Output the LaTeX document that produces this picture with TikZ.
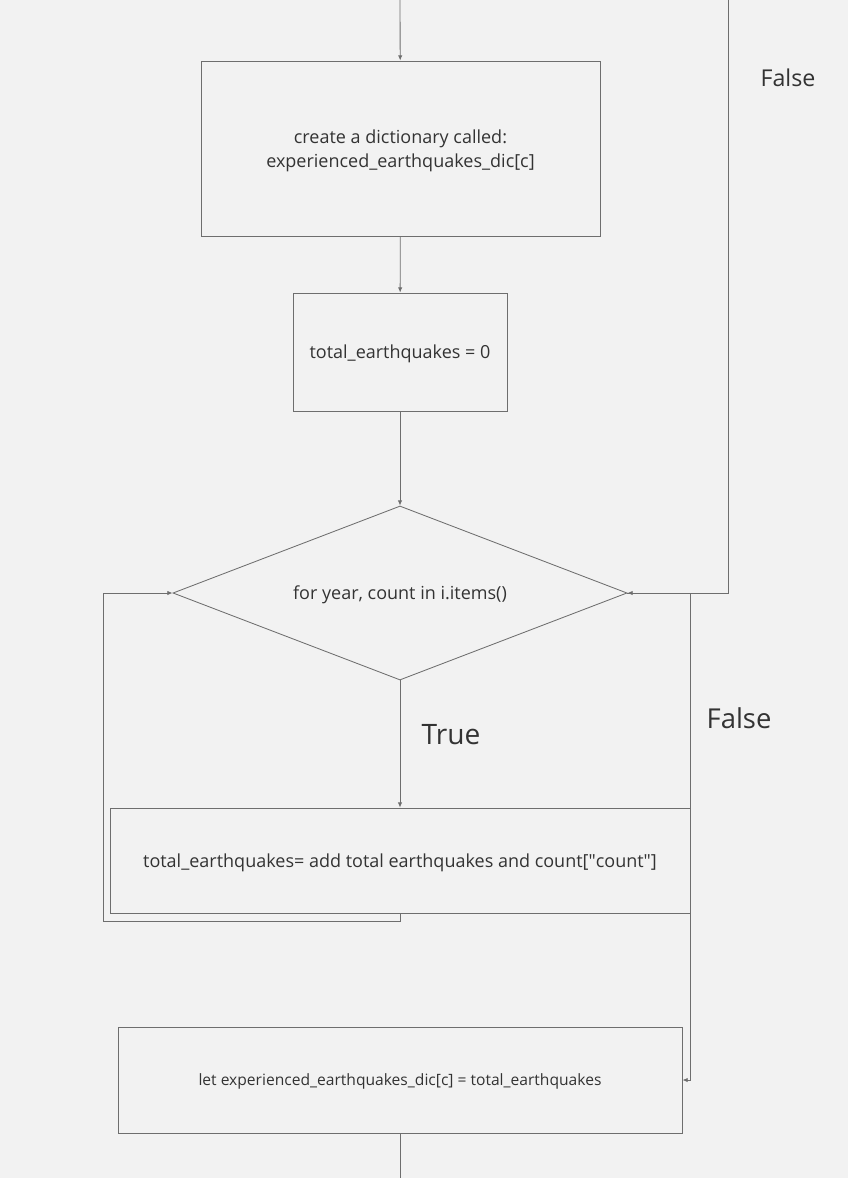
\documentclass[tikz,border=0pt]{standalone}
\usepackage{fontspec}
\setmainfont{Open Sans}
\usetikzlibrary{arrows.meta, shapes.geometric, positioning}
\definecolor{bggray}{HTML}{F2F2F2}
\definecolor{linegray}{HTML}{6E6E6E}
\definecolor{txtgray}{HTML}{333333}

\begin{document}
\begin{tikzpicture}[
    x=0.025cm, y=-0.025cm,
    font=\fontsize{12.8}{16.8}\selectfont,
    >={Latex[length=1.3mm,width=1.1mm]},
    box/.style={draw=linegray, fill=bggray, align=center, inner sep=0pt,
                text=txtgray, line width=0.6pt, text depth=0pt},
    cond/.style={diamond, draw=linegray, aspect=2.6, inner sep=0pt,
                 text=txtgray, line width=0.6pt, text depth=0pt},
    flow/.style={->, draw=linegray, line width=0.6pt},
    lab/.style={text=txtgray, inner sep=0pt},
  ]

  %% ---- canvas ----
  \fill[bggray] (0,0) rectangle (848,1178);
  \useasboundingbox (0,0) rectangle (848,1178);

  %% ---- main chain ----
  \coordinate (in)   at (400,0);
  \coordinate (back) at (728,0);
  \coordinate (out)  at (400,1178);

  \node[box, minimum width=9.975cm, minimum height=4.375cm] (dict) at (400.5,148.5)
    {create a dictionary called:\\experienced\_earthquakes\_dic[c]};
  \node[box, minimum width=5.35cm, minimum height=2.95cm] (init) at (400,352)
    {total\_earthquakes = 0};
  \node[cond, minimum width=11.35cm, minimum height=4.35cm] (loop) at (400,593)
    {for year, count in i.items()};
  \node[box, minimum width=14.5cm, minimum height=2.625cm] (add) at (400,860.5)
    {total\_earthquakes= add total earthquakes and
     count[\textquotedbl count\textquotedbl]};
  \node[box, minimum width=14.1cm, minimum height=2.65cm,
        font=\fontsize{11.1}{14}\selectfont] (store) at (400,1080)
    {let experienced\_earthquakes\_dic[c] = total\_earthquakes};

  \draw[flow] (in) -- (dict);
  \draw[flow] (dict) -- (init);
  \draw[flow] (init) -- (loop);
  \draw[flow] (loop) -- (add);
  \draw[draw=linegray, line width=0.6pt] (store) -- (out);

  %% ---- loop back and exits ----
  \draw[flow] (add.south) -- ++(0,8) -- ++(-297,0) |- (loop.west);
  \draw[flow] (back) |- (loop.east);
  \draw[flow] (loop.east) -- ++(63,0) |- (store.east);

  %% ---- labels ----
  \node[lab, font=\fontsize{20}{24}\selectfont] (truelab) at (451,735) {True};
  \node[lab, font=\fontsize{19.5}{24}\selectfont] (falselow) at (739,718) {False};
  \node[lab, font=\fontsize{16.5}{20}\selectfont] (falsetop) at (788,78) {False};

\end{tikzpicture}
\end{document}
